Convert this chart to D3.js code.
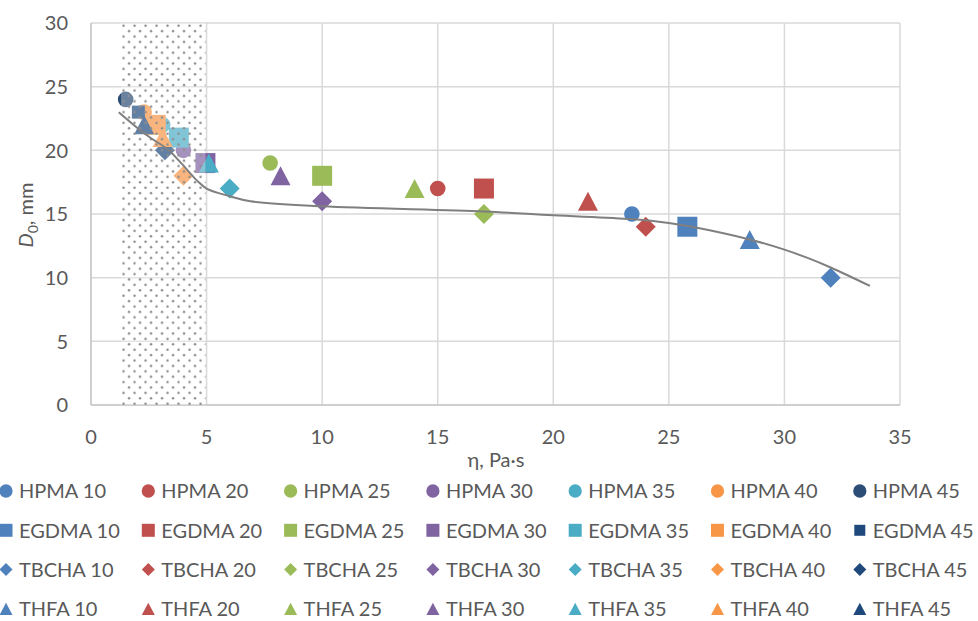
<!DOCTYPE html>
<html>
<head>
<meta charset="utf-8">
<script src="https://cdn.jsdelivr.net/npm/d3@7"></script>
<style>
  body { margin: 0; background: #fff; }
  svg text { font-family: Lato, "Liberation Sans", sans-serif; fill: #595959; }
</style>
</head>
<body>
<div id="chart"></div>
<script>
// monomer groups and concentrations (one series per pair)
const materials = ["HPMA", "EGDMA", "TBCHA", "THFA"];
const concentrations = [10, 20, 25, 30, 35, 40, 45];

// viscosity (eta, Pa·s) and spreading diameter D0 (mm), per concentration
const etaHPMA = [23.4, 15.0, 7.75, 4.0, 3.1, 2.3, 1.5];
const d0HPMA = [15, 17, 19, 20, 22, 23, 24];
const etaEGDMA = [25.8, 17.0, 10.0, 4.95, 3.8, 2.8, 2.05];
const d0EGDMA = [14, 17, 18, 19, 21, 22, 23];
const etaTBCHA = [32.0, 24.0, 17.0, 10.0, 6.0, 4.0, 3.2];
const d0TBCHA = [10, 14, 15, 16, 17, 18, 20];
const etaTHFA = [28.5, 21.5, 14.0, 8.2, 5.1, 3.1, 2.3];
const d0THFA = [13, 16, 17, 18, 19, 21, 22];

// trend curve
const trendEta = [1.2, 2.4, 3.3, 3.9, 4.6, 5.0, 6.0, 6.9, 10, 17, 20, 23.4, 25, 26, 28.5, 30, 31, 32, 33.7];
const trendD0 = [23.0, 21.2, 20.1, 19.0, 17.6, 17.0, 16.4, 16.0, 15.6, 15.2, 14.9, 14.6, 14.3, 14.0, 13.0, 12.2, 11.55, 10.8, 9.35];

// shaded (dotted) eta range
const hatchEta = [1.3, 4.95];

// axis ticks
const xTicks = [0, 5, 10, 15, 20, 25, 30, 35];
const yTicks = [0, 5, 10, 15, 20, 25, 30];

const colors = ["#4F81BD", "#C0504D", "#9BBB59", "#8064A2", "#4BACC6", "#F79646", "#2C4D75"];
const shapes = ["circle", "square", "diamond", "triangle"];

const etaByMat = [etaHPMA, etaEGDMA, etaTBCHA, etaTHFA];
const d0ByMat = [d0HPMA, d0EGDMA, d0TBCHA, d0THFA];

// build series list in drawing order
const series = [];
materials.forEach((m, mi) => {
  concentrations.forEach((c, ci) => {
    series.push({
      name: m + " " + c,
      shape: shapes[mi],
      color: ci === 6 && mi > 0 ? "#1F497D" : colors[ci],
      small: mi === 1 && ci === 6,
      eta: etaByMat[mi][ci],
      d0: d0ByMat[mi][ci]
    });
  });
});

const W = 978, H = 621;
const margin = { top: 23, right: 78, bottom: 216, left: 91 };
const width = W - margin.left - margin.right,
  height = H - margin.top - margin.bottom;

const svg = d3.select("#chart").append("svg")
  .attr("width", W).attr("height", H);

const x = d3.scaleLinear().domain([0, 35]).range([margin.left, margin.left + width]);
const y = d3.scaleLinear().domain([0, 30]).range([margin.top + height, margin.top]);

// marker path
function markerPath(shape, s) {
  const h = s / 2;
  if (shape === "circle") return d3.arc()({ innerRadius: 0, outerRadius: h * 0.78, startAngle: 0, endAngle: 2 * Math.PI });
  if (shape === "square") return `M${-h},${-h}H${h}V${h}H${-h}Z`;
  if (shape === "diamond") return `M0,${-h}L${h},0L0,${h}L${-h},0Z`;
  return `M0,${-h * 0.95}L${h},${h * 0.95}L${-h},${h * 0.95}Z`;
}

// pattern for the dotted region
const defs = svg.append("defs");
const pat = defs.append("pattern")
  .attr("id", "dots")
  .attr("patternUnits", "userSpaceOnUse")
  .attr("width", 11).attr("height", 10.8)
  .attr("x", x(hatchEta[0])).attr("y", margin.top);
pat.append("circle").attr("cx", 2.5).attr("cy", 2.7).attr("r", 1.25).attr("fill", "#8e8e8e");
pat.append("circle").attr("cx", 8).attr("cy", 8.1).attr("r", 1.25).attr("fill", "#8e8e8e");

// gridlines
svg.append("g")
  .selectAll("line.h")
  .data(yTicks.filter(d => d > 0))
  .join("line")
  .attr("x1", x(0)).attr("x2", x(35))
  .attr("y1", d => y(d)).attr("y2", d => y(d))
  .attr("stroke", "#D9D9D9").attr("stroke-width", 1.5);
svg.append("g")
  .selectAll("line.v")
  .data(xTicks.filter(d => d > 0))
  .join("line")
  .attr("x1", d => x(d)).attr("x2", d => x(d))
  .attr("y1", y(0)).attr("y2", y(30))
  .attr("stroke", "#D9D9D9").attr("stroke-width", 1.5);

// axis lines
svg.append("line")
  .attr("x1", x(0)).attr("x2", x(0)).attr("y1", y(0)).attr("y2", y(30))
  .attr("stroke", "#BFBFBF").attr("stroke-width", 1.5);
svg.append("line")
  .attr("x1", x(0)).attr("x2", x(35)).attr("y1", y(0)).attr("y2", y(0))
  .attr("stroke", "#BFBFBF").attr("stroke-width", 1.5);

// tick labels
svg.append("g")
  .selectAll("text")
  .data(yTicks)
  .join("text")
  .attr("x", x(0) - 23)
  .attr("y", d => y(d))
  .attr("dy", "0.36em")
  .attr("text-anchor", "end")
  .style("font-size", "20px")
  .text(d => d);
svg.append("g")
  .selectAll("text")
  .data(xTicks)
  .join("text")
  .attr("x", d => x(d))
  .attr("y", y(0) + 32)
  .attr("dy", "0.36em")
  .attr("text-anchor", "middle")
  .style("font-size", "20px")
  .text(d => d);

// markers
svg.append("g")
  .selectAll("path")
  .data(series)
  .join("path")
  .attr("transform", d => `translate(${x(d.eta)},${y(d.d0)})`)
  .attr("d", d => markerPath(d.shape, d.small ? 13 : 20))
  .attr("fill", d => d.color);

// dotted region on top of markers
const hx0 = x(hatchEta[0]), hx1 = x(hatchEta[1]);
svg.append("rect")
  .attr("x", hx0).attr("y", y(30))
  .attr("width", hx1 - hx0).attr("height", y(0) - y(30))
  .attr("fill", "#fff").attr("fill-opacity", 0.3);
svg.append("rect")
  .attr("x", hx0).attr("y", y(30))
  .attr("width", hx1 - hx0).attr("height", y(0) - y(30))
  .attr("fill", "url(#dots)");

// trend curve
const trend = trendEta.map((e, i) => [e, trendD0[i]]);
svg.append("path")
  .datum(trend)
  .attr("fill", "none")
  .attr("stroke", "#7F7F7F")
  .attr("stroke-width", 2)
  .attr("d", d3.line().x(d => x(d[0])).y(d => y(d[1])).curve(d3.curveCatmullRom.alpha(0.5)));

// axis titles
svg.append("text")
  .attr("x", 496).attr("y", 460)
  .attr("dy", "0.36em")
  .attr("text-anchor", "middle")
  .style("font-size", "20px")
  .text("η, Pa·s");

const yt = svg.append("text")
  .attr("transform", "translate(33,215) rotate(-90)")
  .attr("text-anchor", "middle")
  .style("font-size", "20px");
yt.append("tspan").style("font-style", "italic").text("D");
yt.append("tspan").attr("dy", 5).style("font-size", "14px").text("0");
yt.append("tspan").attr("dy", -5).text(", mm");

// legend: 4 rows x 7 columns
const legend = svg.append("g");
const item = legend.selectAll("g")
  .data(series)
  .join("g")
  .attr("transform", (d, i) => {
    const col = i % 7, row = Math.floor(i / 7);
    return `translate(${6 + col * 142.3},${491 + row * 39.3})`;
  });
item.append("path")
  .attr("d", d => markerPath(d.shape, d.small ? 11 : (d.shape === "circle" ? 17 : 13)))
  .attr("fill", d => d.color);
item.append("text")
  .attr("x", 13)
  .attr("dy", "0.36em")
  .style("font-size", "20px")
  .text(d => d.name);
</script>
</body>
</html>
